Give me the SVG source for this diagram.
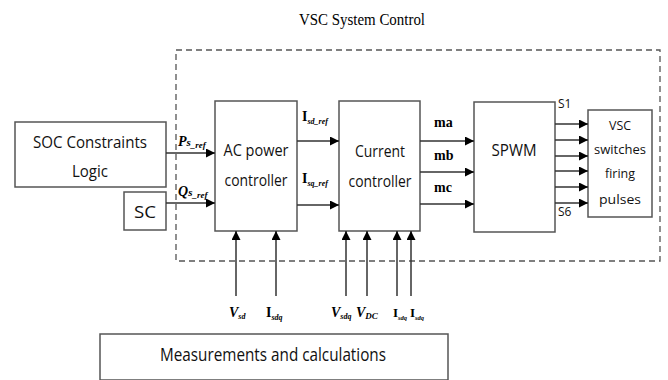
<svg xmlns="http://www.w3.org/2000/svg" width="668" height="380" viewBox="0 0 668 380">
<defs>
<marker id="ah" viewBox="0 0 10 10" refX="10" refY="5" markerWidth="9" markerHeight="9" markerUnits="userSpaceOnUse" orient="auto">
<path d="M0,0 L10,5 L0,10 z" fill="#000"/>
</marker>
<style>
.box{fill:#fff;stroke:#555;stroke-width:1.5}
.dash{fill:none;stroke:#555;stroke-width:1.3;stroke-dasharray:6 4}
.ln{stroke:#333;stroke-width:1.5;fill:none}
.arr{stroke:#333;stroke-width:1.5;fill:none;marker-end:url(#ah)}
.sans{font-family:"Open Sans","Liberation Sans",sans-serif;fill:#111}
.ser{font-family:"Liberation Serif",serif;fill:#000}
.lbl{font-family:"Liberation Serif",serif;font-weight:bold;fill:#000}
</style>
</defs>
<rect width="668" height="380" fill="#fff"/>
<text class="ser" x="362" y="25" font-size="16" text-anchor="middle" textLength="126" lengthAdjust="spacingAndGlyphs">VSC  System Control</text>
<rect class="dash" x="176" y="50" width="484" height="211"/>

<g id="soc">
<rect class="box" x="15" y="122" width="151" height="65"/>
<text class="sans" x="90" y="148" font-size="17" text-anchor="middle" textLength="114" lengthAdjust="spacingAndGlyphs">SOC Constraints</text>
<text class="sans" x="90" y="177" font-size="17" text-anchor="middle" textLength="36" lengthAdjust="spacingAndGlyphs">Logic</text>
</g>
<g id="sc">
<rect class="box" x="124" y="192" width="42" height="38"/>
<text class="sans" x="145" y="218" font-size="17" text-anchor="middle" textLength="22" lengthAdjust="spacingAndGlyphs">SC</text>
</g>
<g id="acpc">
<rect class="box" x="215" y="101" width="82" height="130"/>
<text class="sans" x="256" y="156" font-size="16" text-anchor="middle" textLength="65" lengthAdjust="spacingAndGlyphs">AC power</text>
<text class="sans" x="256" y="186" font-size="16" text-anchor="middle" textLength="63" lengthAdjust="spacingAndGlyphs">controller</text>
</g>
<g id="cc">
<rect class="box" x="339" y="101" width="81" height="130"/>
<text class="sans" x="380" y="157" font-size="16" text-anchor="middle" textLength="50" lengthAdjust="spacingAndGlyphs">Current</text>
<text class="sans" x="380" y="187" font-size="16" text-anchor="middle" textLength="63" lengthAdjust="spacingAndGlyphs">controller</text>
</g>
<g id="spwm">
<rect class="box" x="474" y="102" width="81" height="130"/>
<text class="sans" x="514" y="156" font-size="16" text-anchor="middle" textLength="45" lengthAdjust="spacingAndGlyphs">SPWM</text>
</g>
<g id="vsc">
<rect class="box" x="588" y="110" width="64" height="107"/>
<text class="sans" x="620" y="130" font-size="13" text-anchor="middle" textLength="22" lengthAdjust="spacingAndGlyphs">VSC</text>
<text class="sans" x="620" y="154" font-size="13" text-anchor="middle" textLength="52" lengthAdjust="spacingAndGlyphs">switches</text>
<text class="sans" x="620" y="178" font-size="13" text-anchor="middle" textLength="30" lengthAdjust="spacingAndGlyphs">firing</text>
<text class="sans" x="620" y="204" font-size="13" text-anchor="middle" textLength="42" lengthAdjust="spacingAndGlyphs">pulses</text>
</g>
<g id="meas">
<rect class="box" x="100" y="334" width="348" height="46"/>
<text class="sans" x="273" y="361" font-size="19" text-anchor="middle" textLength="226" lengthAdjust="spacingAndGlyphs">Measurements and calculations</text>
</g>

<g id="connectors">
<line class="arr" x1="166" y1="153" x2="215" y2="153"/>
<line class="arr" x1="166" y1="203" x2="215" y2="203"/>
<line class="arr" x1="297" y1="141" x2="339" y2="141"/>
<line class="arr" x1="297" y1="205" x2="339" y2="205"/>
<line class="arr" x1="420" y1="141" x2="474" y2="141"/>
<line class="arr" x1="420" y1="172" x2="474" y2="172"/>
<line class="arr" x1="420" y1="204" x2="474" y2="204"/>
<line class="arr" x1="555" y1="124" x2="588" y2="124"/>
<line class="arr" x1="555" y1="140" x2="588" y2="140"/>
<line class="arr" x1="555" y1="156" x2="588" y2="156"/>
<line class="arr" x1="555" y1="171" x2="588" y2="171"/>
<line class="arr" x1="555" y1="187" x2="588" y2="187"/>
<line class="arr" x1="555" y1="203" x2="588" y2="203"/>
<line class="arr" x1="236" y1="296" x2="236" y2="231"/>
<line class="arr" x1="276" y1="296" x2="276" y2="231"/>
<line class="arr" x1="346" y1="296" x2="346" y2="231"/>
<line class="arr" x1="367" y1="296" x2="367" y2="231"/>
<line class="arr" x1="397" y1="296" x2="397" y2="231"/>
<line class="arr" x1="411" y1="296" x2="411" y2="231"/>
</g>

<g id="labels">
<text class="lbl" x="178" y="146" font-size="14" font-style="italic">P<tspan font-size="11">s</tspan><tspan font-size="9" dy="2">_ref</tspan></text>
<text class="lbl" x="178" y="196" font-size="14" font-style="italic">Q<tspan font-size="11">s</tspan><tspan font-size="9" dy="2">_ref</tspan></text>
<text class="lbl" x="302" y="121" font-size="14">I<tspan font-size="8" dy="3" font-style="italic">sd_ref</tspan></text>
<text class="lbl" x="302" y="183" font-size="14">I<tspan font-size="8" dy="3" font-style="italic">sq_ref</tspan></text>
<text class="lbl" x="434" y="127" font-size="14">ma</text>
<text class="lbl" x="434" y="160" font-size="14">mb</text>
<text class="lbl" x="434" y="192" font-size="14">mc</text>
<text class="sans" x="558" y="108" font-size="12">S1</text>
<text class="sans" x="558" y="216" font-size="12">S6</text>
<text class="lbl" x="229" y="317" font-size="14" font-style="italic">V<tspan font-size="8" dy="2">sd</tspan></text>
<text class="lbl" x="266" y="317" font-size="14">I<tspan font-size="8" dy="3" font-style="italic">sdq</tspan></text>
<text class="lbl" x="331" y="317" font-size="14" font-style="italic">V<tspan font-size="8" dy="2">sdq</tspan></text>
<text class="lbl" x="356" y="317" font-size="14" font-style="italic">V<tspan font-size="9" dy="2">DC</tspan></text>
<text class="lbl" x="393" y="317" font-size="13">I<tspan font-size="6.5" dy="3" font-style="italic">sdq</tspan></text>
<text class="lbl" x="410" y="317" font-size="13">I<tspan font-size="6.5" dy="3" font-style="italic">sdq</tspan></text>
</g>
</svg>
